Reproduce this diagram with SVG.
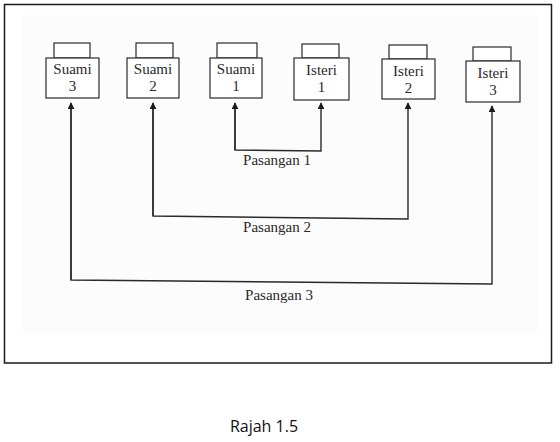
<svg xmlns="http://www.w3.org/2000/svg" width="560" height="442" viewBox="0 0 560 442">
<defs>
<style>
.frame{fill:#ffffff;stroke:#1a1a1a;stroke-width:1.5}
.inner{fill:#fcfcfc;stroke:none}
.box{fill:#ffffff;stroke:#2a2a2a;stroke-width:1.2}
.t{font-family:"Liberation Serif","Times New Roman",serif;font-size:15px;fill:#2a2a2a;text-anchor:middle}
.lbl{font-family:"Liberation Serif","Times New Roman",serif;font-size:15px;fill:#2a2a2a;text-anchor:middle}
.cap{font-family:"Open Sans","Liberation Sans",sans-serif;font-size:16px;fill:#111;text-anchor:middle}
.c{fill:none;stroke:#2a2a2a;stroke-width:1.4}
</style>
<marker id="ah" viewBox="0 0 10 10" refX="9" refY="5" markerWidth="7" markerHeight="7" markerUnits="userSpaceOnUse" orient="auto">
<path d="M0,0 L10,5 L0,10 Z" fill="#1a1a1a"/>
</marker>
</defs>
<rect x="0" y="0" width="560" height="442" fill="#ffffff"/>
<rect class="frame" x="4.5" y="4.5" width="547" height="358.5"/>
<rect class="inner" x="22" y="15" width="516" height="318"/>

<g id="suami3">
<rect class="box" x="54" y="43" width="36" height="15"/>
<rect class="box" x="46" y="58" width="53" height="40"/>
<text class="t" x="72.5" y="74">Suami</text>
<text class="t" x="72.5" y="91">3</text>
</g>
<g id="suami2">
<rect class="box" x="136" y="43" width="37" height="15"/>
<rect class="box" x="127" y="58" width="52" height="40"/>
<text class="t" x="153" y="74">Suami</text>
<text class="t" x="153" y="91">2</text>
</g>
<g id="suami1">
<rect class="box" x="217" y="43" width="40" height="15"/>
<rect class="box" x="210" y="58" width="52" height="40"/>
<text class="t" x="236" y="74">Suami</text>
<text class="t" x="236" y="91">1</text>
</g>
<g id="isteri1">
<rect class="box" x="302" y="44" width="37" height="14"/>
<rect class="box" x="294" y="58" width="55" height="42"/>
<text class="t" x="321.5" y="75">Isteri</text>
<text class="t" x="321.5" y="92">1</text>
</g>
<g id="isteri2">
<rect class="box" x="389" y="45" width="38" height="14"/>
<rect class="box" x="382" y="59" width="53" height="40"/>
<text class="t" x="408.5" y="76">Isteri</text>
<text class="t" x="408.5" y="93">2</text>
</g>
<g id="isteri3">
<rect class="box" x="473" y="47" width="38" height="14"/>
<rect class="box" x="466" y="61" width="54" height="41"/>
<text class="t" x="493" y="78">Isteri</text>
<text class="t" x="493" y="95">3</text>
</g>

<g id="connectors">
<path class="c" d="M235,103 L235,150 L321,151 L321,103" marker-end="url(#ah)"/>
<line class="c" x1="235" y1="150" x2="235" y2="103" marker-end="url(#ah)"/>
<path class="c" d="M153,103 L153,216 L408,219 L408,103" marker-end="url(#ah)"/>
<line class="c" x1="153" y1="216" x2="153" y2="103" marker-end="url(#ah)"/>
<path class="c" d="M71,103 L71,280 L492,284 L492,106" marker-end="url(#ah)"/>
<line class="c" x1="71" y1="280" x2="71" y2="103" marker-end="url(#ah)"/>
</g>

<text class="lbl" x="277" y="165">Pasangan 1</text>
<text class="lbl" x="277" y="232">Pasangan 2</text>
<text class="lbl" x="279" y="300">Pasangan 3</text>
<text class="cap" x="264" y="432">Rajah 1.5</text>
</svg>
